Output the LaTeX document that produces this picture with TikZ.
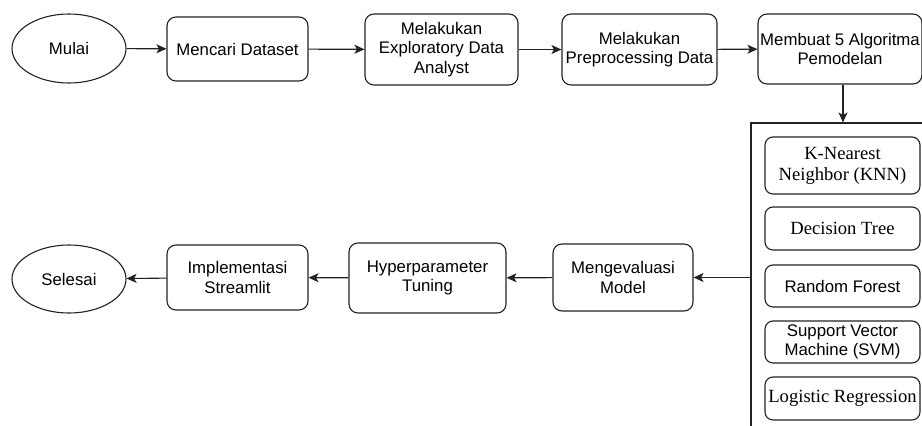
\documentclass[tikz,border=0pt]{standalone}
\usepackage{fontspec}
\setmainfont{Liberation Sans}
\newfontfamily\serifface{Liberation Serif}
\usetikzlibrary{arrows.meta,shapes.geometric}
\definecolor{linec}{HTML}{222222}
\tikzset{
  base/.style={draw=linec, line width=1.1pt, align=center, inner sep=0pt, text=black,
    font=\fontsize{16.8}{19.5}\selectfont},
  procbox/.style={base, rectangle, rounded corners=9pt},
  termnode/.style={base, ellipse},
  algbox/.style={base, rectangle, rounded corners=8pt, minimum width=155pt},
  serifalg/.style={algbox, font=\fontsize{18.6}{21}\selectfont\serifface},
  flow/.style={draw=linec, line width=1.1pt, -{Stealth[length=10pt,width=9pt,inset=2.5pt]}},
}
\begin{document}
\begin{tikzpicture}[x=1pt,y=-1pt]
\useasboundingbox (0,0) rectangle (922,426);
\clip (0,0) rectangle (922,426);
% top row
\node[termnode, minimum width=114pt, minimum height=69pt] (mulai) at (69,48.5) {Mulai};
\node[procbox, minimum width=141pt, minimum height=64pt] (cari) at (237.5,49) {Mencari Dataset};
\node[procbox, minimum width=153pt, minimum height=71pt] (eda) at (441.5,49.5) {Melakukan\\Exploratory Data\\Analyst};
\node[procbox, minimum width=155pt, minimum height=71pt] (prep) at (639.5,49.5) {Melakukan\\Preprocessing Data};
\node[procbox, minimum width=164pt, minimum height=70pt] (memb) at (840,49) {Membuat 5 Algoritma\\Pemodelan};
% container
\node[draw=linec, line width=1.1pt, rectangle, minimum width=190pt, minimum height=320pt, inner sep=0pt] (cont) at (846,283) {};
\node[serifalg, minimum height=57pt] (knn) at (842.5,165.5) {K-Nearest\\Neighbor (KNN)};
\node[serifalg, minimum height=43pt] (dt) at (842.5,228.5) {Decision Tree};
\node[algbox, minimum height=42pt] (rf) at (842.5,286) {Random Forest};
\node[algbox, minimum height=42pt] (svm) at (842.5,342) {Support Vector\\Machine (SVM)};
\node[serifalg, minimum height=43pt] (lr) at (842.5,398.5) {Logistic Regression};
% bottom row
\node[termnode, minimum width=114pt, minimum height=68pt] (selesai) at (69,279) {Selesai};
\node[procbox, minimum width=141pt, minimum height=65pt] (impl) at (237.5,277.5) {Implementasi\\Streamlit};
\node[procbox, minimum width=157pt, minimum height=70pt] (hyper) at (427.5,278) {Hyperparameter\\Tuning};
\node[procbox, minimum width=140pt, minimum height=67pt] (eval) at (623,277.5) {Mengevaluasi\\Model};
% connectors
\draw[flow] (mulai) -- (cari);
\draw[flow] (cari) -- (eda);
\draw[flow] (eda) -- (prep);
\draw[flow] (prep) -- (memb);
\draw[flow] ([xshift=3pt]memb.south) -- ([xshift=3pt]memb.south |- cont.north);
\draw[flow] (eval.east -| cont.west) -- (eval.east);
\draw[flow] (eval) -- (hyper);
\draw[flow] (hyper) -- (impl);
\draw[flow] (impl) -- (selesai);
\end{tikzpicture}
\end{document}
